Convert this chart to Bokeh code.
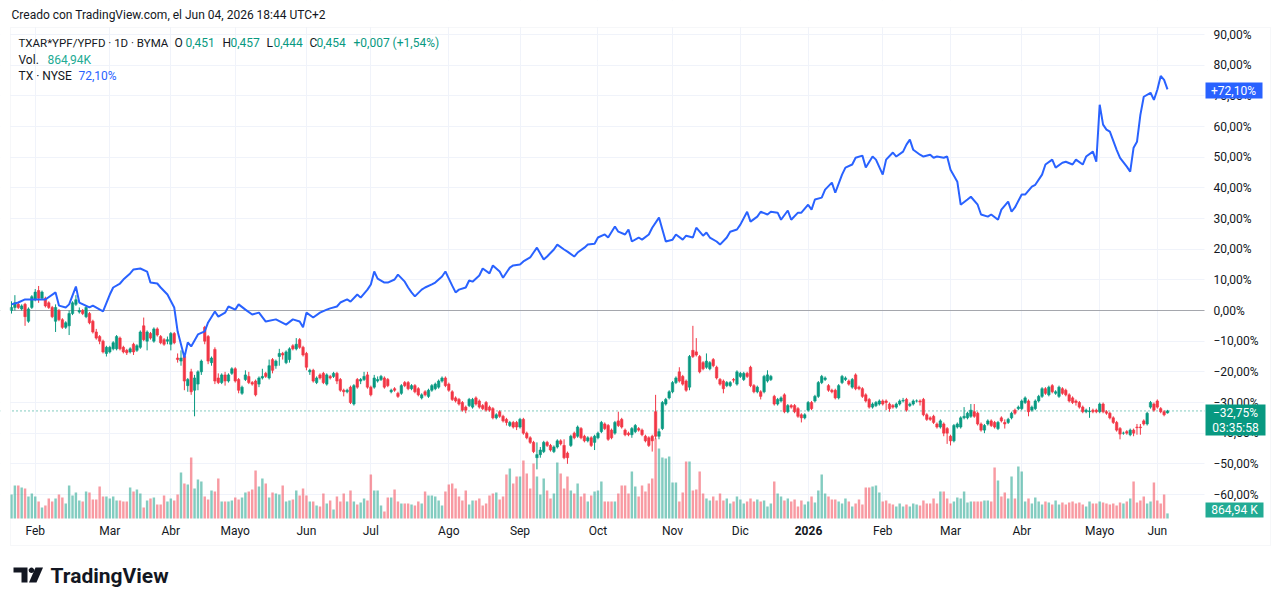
import math
from bokeh.plotting import figure
from bokeh.models import (Range1d, FixedTicker, CustomJSTickFormatter, Label, Span,
                          ColumnDataSource, BoxAnnotation, PolyAnnotation)
from bokeh.embed import file_html
from bokeh.resources import INLINE

# ---------------- data (percent change, TradingView % mode) ----------------
open_pct = [
 0, 1, 2, 0.5, 2, -3.5, 1, 3.5, 6.5, 4,
 4, 2.5, 1, -3.5, 0, -3, -5.5, -5, -1, 2,
 -0.5, 0, -2, -1, -3.5, -7, -8.5, -10, -14, -13.5,
 -12.5, -12.5, -9, -12, -13, -13.5, -11, -13, -12, -5,
 -10, -7.5, -10, -6, -8.5, -9.5, -10, -11, -7.5, -15.5,
 -16.5, -15, -24.5, -20, -26, -24, -20, -5.5, -8.5, -17,
 -12.7, -22, -23.5, -21, -23, -20.5, -19, -22.5,
 -27, -22.5, -21.5, -23.5, -23, -24, -22, -20.5, -22, -16, -18, -15,
 -14, -17, -16, -11.5, -12.5, -9.5, -12, -14, -20, -19.5,
 -23.5, -21, -20.5, -24, -21.5, -21.5, -20.5, -22.5, -26, -26.5,
 -25, -30.5, -22.5, -23, -22.5, -21, -25, -25, -23, -22.5,
 -22, -22.5, -26.5, -25.5, -27, -27, -23.5, -23.5, -25.5, -24.5,
 -25.5, -28.5, -26.5, -28, -26, -25.5, -25, -23, -22, -24,
 -26.5, -28.5, -29, -30, -31.5, -31,
 -31.5, -28.5, -29.5, -31, -30, -31.5, -32, -35, -33, -34.5,
 -35.5, -37.5, -36.5, -36.5, -38, -35.5, -40, -41.5, -43, -48,
 -47, -46, -43, -44, -46, -44.5, -42.5, -44, -46.5, -44,
 -40, -41, -38.5, -41, -42.5, -41.5, -43, -41.5, -39.5, -37,
 -37.5, -39, -40, -36, -35.5, -39, -40, -40.5, -39.5, -38.5,
 -39, -41, -41.5, -41, -33, -41, -38.5, -30.5, -28.5, -26.5,
 -23.5, -20, -21.5, -23, -25, -13, -13.5, -15,
 -17, -18.5, -19, -16, -18.5, -22.5, -23, -24.5, -24.5, -22.5,
 -24, -21.5, -22.5, -20.5, -18.5, -24.5, -26.5, -26.5, -26.5, -23,
 -22.5, -28, -30.5, -29.5, -27.5, -33, -31, -31, -32, -34,
 -35, -32.5, -30, -29.5, -28, -23.5, -22.5, -24.5, -26, -26,
 -28.5, -23.5, -22.5, -23, -25, -21, -25, -25.5, -27.5, -29,
 -31.5, -31, -30.5, -29.5, -29.5, -30.5, -31, -31.5, -30.5, -29.5,
 -29, -31, -30.5, -29.5, -29.5, -29, -34, -35, -34.5, -37,
 -38, -37, -38.5, -41, -42.5, -38, -38, -35, -35, -34.5,
 -33, -33.5, -37, -39, -37, -36, -36.5, -38.5, -35, -36.5,
 -36.5, -35, -32.5, -32, -32, -30, -29.5, -32.5, -32, -29.5,
 -28, -25.5, -27.5, -24.5, -27, -28, -25.5, -26, -27.5, -28.5,
 -29.5, -30, -31.5, -33, -33, -32.5, -32.5, -33, -30.5, -33,
 -33.5, -35, -36.5, -38.5, -40, -39.5, -40.5, -39, -38, -38,
 -36, -37, -31.5, -30.5, -29.5, -32, -33, -33.4]

high_pct = [
 3, 5, 2.5, 2, 2.5, 1, 5, 7, 8, 6.5,
 4.5, 3, 1.5, 2, 0.5, -2.5, -3.5, 0, 3, 5,
 1, 0.5, 1.5, -0.5, -3, -6, -8, -9.5, -11.5, -11.5,
 -10, -8, -8.5, -11.5, -12.5, -12, -10.5, -11, -6.5, -2.3,
 -6.5, -7, -5.5, -5.5, -8, -9, -8.5, -7, -7, -14,
 -13, -14, -22, -19, -21, -19.5, -16, -5, -8, -15,
 -12, -20.5, -20.5, -20, -20.5, -18.5, -18.5, -22,
 -24.5, -19.5, -20, -23, -22.5, -21.5, -19, -20, -16, -15.5, -16, -12.5,
 -13.5, -13, -12, -11, -9, -9, -11.5, -13.5, -19, -19,
 -21.5, -20.5, -20, -20.5, -21, -20, -20, -22, -25.5, -25.5,
 -24.5, -24, -22, -22, -20, -20, -24.5, -21, -21.5, -21,
 -21.5, -22, -25.5, -25, -26.5, -24, -23, -23, -24, -24,
 -25, -27, -26, -25.5, -24, -23.5, -22.5, -21.5, -21.5, -23.5,
 -26, -28, -28.5, -29.5, -31, -28.5,
 -28.5, -28, -29, -30.5, -29.5, -31, -31.5, -33.5, -32.5, -34,
 -35, -36, -36, -36, -35, -35, -39.5, -41, -42.5, -43,
 -44.5, -42.5, -42.5, -43.5, -44, -42, -42, -42, -46, -40.5,
 -39.5, -37.5, -38, -40.5, -41, -41, -40.5, -39.5, -36, -36.5,
 -37, -38.5, -36, -33, -35, -38.5, -39.5, -38, -37, -38,
 -38.5, -40.5, -41, -40.5, -27.5, -38.5, -29.5, -28.5, -26, -23,
 -21.5, -18.5, -21, -22.5, -14.5, -5, -9, -14.5,
 -16.5, -14, -16.5, -15.5, -18, -22, -22.5, -23, -23, -22,
 -19.5, -20, -20, -20, -18, -24, -24.5, -26, -21, -19.5,
 -21, -27.5, -28.5, -28, -27, -30.5, -30.5, -30.5, -31.5, -33.5,
 -33.5, -29.5, -29.5, -27.5, -23, -21, -21.5, -24, -25.5, -25.5,
 -24, -21, -21.5, -22.5, -22, -20.5, -24.5, -25, -27, -28.5,
 -30, -29.5, -29, -29, -29, -30, -30.5, -30, -29, -28.5,
 -28.5, -30, -29, -29, -29, -28.5, -33.5, -34.5, -34, -36.5,
 -35.5, -36.5, -38, -40.5, -37, -36.5, -34.5, -31.5, -33, -30.5,
 -30.5, -33, -36.5, -37, -35.5, -35.5, -36, -36, -34.5, -35.5,
 -35, -33, -32, -31, -29, -28, -29, -31, -29, -27.5,
 -25, -25, -24.5, -24, -26, -24.5, -25, -25.5, -27, -28,
 -29, -29.5, -31, -32, -31.5, -32, -32, -30, -30, -32.5,
 -33, -34.5, -36, -38, -39.5, -39, -38.5, -38.5, -37, -37,
 -35.5, -33, -29.5, -30, -29, -31.5, -32.5, -32.4]

low_pct = [
 -1, 0, 0.5, 0, -5, -4, 0.5, 3, 2.5, 3.5,
 1, 0.5, -2.5, -7, -3.5, -6, -6, -8, -1.5, 1.5,
 -1, -1.5, -2.5, -4.5, -7.5, -9.5, -11, -14, -15, -14,
 -13, -13, -13, -14, -14.5, -14, -14.5, -13.5, -12.5, -10,
 -13, -9.5, -10.5, -8.5, -11, -11.5, -11, -13, -11, -17,
 -18, -26, -26.5, -27.5, -34.5, -26, -21, -11, -17.5, -18,
 -24, -24, -24, -24.5, -23.5, -21, -23.5, -27,
 -27.5, -23, -24, -24.5, -28, -25, -22.5, -22, -22.5, -20.5, -19, -18,
 -16, -17.5, -17, -13, -13, -12.5, -15, -19.5, -21, -23.5,
 -24, -22.5, -24, -24.5, -22.5, -22, -24, -26.5, -28, -27,
 -30.5, -31, -25.5, -24, -23, -25.5, -28, -25.5, -23.5, -23,
 -25.5, -25, -27, -26.5, -28.5, -27.5, -25, -26, -26, -27,
 -28, -29, -28, -28.5, -26.5, -26, -25.5, -23.5, -25, -26.5,
 -29.5, -30, -31, -33, -33.5, -31.5,
 -32, -31, -32, -32.5, -33, -33, -35.5, -35.5, -35, -36.5,
 -37.5, -38, -38.5, -39, -38.5, -40.5, -42, -43.5, -46.5, -51.8,
 -48, -46.5, -44.5, -46, -46.5, -45, -44, -48.5, -50, -44.5,
 -42, -41.5, -42, -43, -43, -44.5, -45.5, -42, -40, -39,
 -42.5, -42, -40.5, -38, -38.5, -41, -41, -41.5, -40, -39.5,
 -41, -43, -44.5, -46, -42, -42, -39, -31, -29, -27,
 -24, -23.5, -24.5, -26.5, -26, -15.5, -15, -20.5,
 -19.5, -19, -19.5, -18.5, -22.5, -24.5, -27, -25, -25, -23.5,
 -24.5, -22, -23, -22, -25, -27, -27, -29, -27, -23.5,
 -23, -31, -31, -30, -33.5, -33.5, -32, -33.5, -35, -36.5,
 -35.5, -33, -32.5, -30, -28.5, -24, -23, -26.5, -27, -29,
 -29, -24, -23, -24.5, -25.5, -26, -26, -28.5, -30, -32,
 -32, -31.5, -31, -31, -32.5, -33, -32, -32, -31, -30,
 -33, -31.5, -31, -30, -31, -34.5, -36, -36, -37, -38.5,
 -38.5, -41, -43.5, -44, -43, -38.5, -38.5, -35.5, -35.5, -35,
 -35, -37.5, -39.5, -40, -37.5, -38, -38.5, -39, -36.5, -38.5,
 -37, -35.5, -34, -32.5, -32.5, -30.5, -34.5, -33, -32.5, -30,
 -28.5, -27.5, -28, -27, -27.5, -28.5, -27.5, -28, -30, -30.5,
 -31, -32, -33.5, -33.5, -35, -33.5, -33.5, -33.5, -33.5, -34,
 -35.5, -37, -39.5, -42, -40.5, -40.5, -41, -41, -40.5, -40.5,
 -37.5, -37.5, -32, -33, -32, -33.5, -34.5, -33.6]

close_pct = [
 1, 2.5, 1, 1.5, -2, 0.5, 4.5, 6, 4, 6,
 1.5, 1, -2, 1, -3, -5.5, -4, -1, 2.5, 3.5,
 0, -1, 1, -4, -7, -9, -10, -13.5, -12, -12,
 -10.5, -8.5, -12.5, -13.5, -13.8, -12.5, -13.5, -11.5, -7, -9.5,
 -7, -9, -6, -8, -10.5, -11, -9.5, -7.5, -10.5, -16,
 -15.5, -23, -22.5, -26.5, -22, -20, -16.5, -10, -16.5, -15.5,
 -23, -23.5, -21, -23, -21, -19, -23, -26,
 -25, -21, -23.5, -24, -27.5, -22, -21.5, -21.5, -18, -19.5, -16.5, -14,
 -14.5, -13.5, -12.5, -12.5, -11, -12, -14.5, -18.5, -19.5, -23,
 -22, -22, -23.5, -21, -22, -20.5, -23, -26, -26.5, -26,
 -30, -24.5, -25, -22.5, -21.5, -25, -27.5, -22, -22.5, -21.5,
 -25, -24.5, -26, -26, -28, -24.5, -24.5, -25.5, -24.5, -26.5,
 -27.5, -27.5, -27.5, -26, -24.5, -24, -23, -22, -24.5, -26,
 -29, -29.5, -30.5, -32.5, -32.5, -29,
 -29, -30.5, -31.5, -32, -32.5, -32.5, -35, -34, -34.5, -36,
 -36.5, -36.5, -38, -38, -35.5, -40, -41.5, -43, -46, -47,
 -45.5, -43, -44, -45.5, -44.5, -42.5, -43.5, -48, -48, -41,
 -41.5, -38, -41.5, -42.5, -41.5, -44, -41, -40, -36.5, -38.5,
 -42, -41.5, -36.5, -37.5, -38, -40.5, -40.5, -38.5, -37.5, -39,
 -40.5, -42.5, -44, -42.5, -41, -39.5, -30, -29, -26.5, -23.5,
 -22, -23, -24, -26, -15, -15, -14.5, -20,
 -19, -16.5, -17, -18, -22, -24, -25.5, -23.5, -23.5, -22.7,
 -20, -20.5, -20.5, -21.5, -24.5, -26.5, -25, -28, -21.5, -21,
 -21.5, -30.5, -29, -28.5, -33, -31, -31.5, -33, -34.5, -35,
 -34, -30, -32, -28, -23.5, -21.5, -22, -26, -26.5, -28.5,
 -24.5, -21.5, -22, -24, -22.5, -25.5, -25.5, -28, -29.5, -31.5,
 -30.5, -30, -29.5, -30.5, -30, -32, -31.5, -30.5, -29.5, -29.3,
 -32.5, -30.5, -29.5, -29.5, -29.8, -34, -35.5, -35.5, -36.5, -38,
 -36, -40, -40, -42.5, -37.5, -37, -35, -34.5, -33.5, -32.5,
 -34.5, -37, -39, -37.5, -36, -37.5, -38, -36.5, -36, -37,
 -35.5, -33.5, -33.5, -31.5, -29.5, -28.5, -33, -31.5, -29.5, -28,
 -25.5, -27, -25, -26.5, -26.5, -25, -27, -27.5, -29.5, -30,
 -30, -31.5, -33, -32.5, -32.8, -33, -33, -30.5, -33, -33.5,
 -35, -36.5, -39, -40.3, -40, -40, -39, -40, -38.2, -38.2,
 -37, -33.5, -30, -32.5, -31.5, -33, -34, -32.75]

volume_k = [
 4080, 5610, 5610, 5270, 5100, 3740, 4250, 3740, 2890, 1870,
 2210, 3400, 2890, 3400, 4080, 3570, 2550, 5610, 3910, 4420,
 3060, 2890, 4590, 4420, 3230, 3230, 5440, 3740, 3740, 3400,
 3740, 3060, 3060, 2890, 2890, 5270, 4590, 4930, 4250, 1870,
 3060, 3400, 3570, 2380, 2380, 3910, 2890, 3400, 3060, 4080,
 7820, 5950, 5780, 10370, 5100, 6630, 6290, 3740, 3230, 4760,
 4590, 6800, 2890, 2890, 2890, 3060, 3570, 3230, 3570, 4420,
 4590, 4930, 8160, 5440, 6800, 5950, 3570, 4420, 4250, 4080,
 5610, 2890, 3060, 3230, 4760, 3910, 5100, 3910, 2890, 2890,
 2210, 2040, 4250, 2550, 3060, 1530, 3740, 2890, 4250, 2890,
 4760, 2890, 2380, 2720, 3400, 3060, 7480, 4760, 4760, 2210,
 1190, 3570, 3570, 4930, 2890, 2550, 2550, 2550, 2380, 2210,
 2890, 2550, 4590, 3910, 3910, 3740, 3060, 2210, 4590, 5780,
 5950, 5100, 3740, 3060, 4760, 2380, 3060, 3060, 3400, 2210,
 2550, 3910, 4250, 4420, 3230, 3740, 7480, 8500, 5950, 7140,
 7140, 9860, 7650, 5100, 9350, 7140, 4080, 6800, 4760, 3400,
 4250, 9520, 7650, 5100, 7140, 4760, 4250, 5950, 3740, 4250,
 2890, 3910, 4590, 4760, 6290, 2890, 2890, 2890, 2890, 4250,
 5610, 5610, 4250, 7990, 5440, 3740, 5610, 4590, 5950, 6800,
 13600, 11900, 10370, 10200, 10540, 6120, 6120, 2890, 4420, 9690,
 9690, 4760, 4930, 7990, 4250, 3400, 3060, 3740, 3060, 4250,
 3060, 3400, 2550, 2890, 3740, 3230, 2550, 2890, 3400, 2890,
 3230, 2890, 3060, 2040, 2550, 6290, 4250, 3740, 3060, 3400,
 2890, 3230, 2040, 3060, 2380, 2890, 3740, 2720, 4760, 7480,
 4250, 3740, 3230, 3230, 2890, 2550, 3400, 2890, 2040, 2550,
 3230, 2380, 5270, 5270, 5440, 5610, 4420, 2890, 3060, 2550,
 2380, 2040, 2550, 2040, 2380, 2040, 2550, 2380, 2210, 3060,
 2550, 2550, 3400, 2550, 4590, 4590, 3400, 2550, 2890, 3570,
 3400, 4590, 2720, 2890, 2890, 2890, 2890, 3060, 3060, 2890,
 8670, 6460, 3740, 4420, 3400, 7140, 3400, 8840, 7990, 2890,
 3400, 2550, 3570, 2890, 2380, 2890, 2720, 2380, 3060, 2380,
 2720, 2380, 2720, 2890, 2550, 2720, 2380, 2040, 2890, 2550,
 2550, 2890, 2720, 2550, 2380, 2550, 2210, 2720, 2550, 2890,
 3400, 6290, 2720, 3060, 3740, 2550, 2890, 6120, 3060, 2550,
 4080, 864.94]

# TX (NYSE) comparison line: bar index of each reading and its % value
tx_bar = [0, 2, 4, 7, 10, 13, 14, 16, 17, 19, 20, 23, 24, 27, 29, 30, 32, 33, 35, 36,
 38, 40, 41, 43, 44, 46, 48, 49, 51, 52, 53, 55, 57, 58, 60, 61, 63, 64, 66, 67,
 69, 71, 73, 75, 78, 81, 83, 85, 86, 87, 89, 91, 93, 94, 96, 97, 99, 100, 102, 103,
 105, 106, 107, 108, 110, 111, 113, 114, 116, 117, 118, 119, 121, 122, 124, 125, 127, 128, 129, 130,
 131, 132, 134, 135, 136, 138, 139, 141, 142, 144, 145, 147, 148, 150, 151, 153, 154, 155, 157, 158,
 160, 161, 163, 164, 166, 167, 169, 170, 172, 173, 175, 176, 178, 179, 181, 182, 183, 185, 186, 188,
 189, 191, 192, 193, 195, 196, 198, 199, 201, 202, 204, 205, 206, 208, 209, 211, 212, 214, 215, 217,
 218, 220, 221, 223, 224, 226, 227, 229, 230, 232, 233, 235, 236, 237, 239, 240, 242, 243, 245, 246,
 248, 249, 251, 252, 254, 255, 257, 258, 260, 261, 263, 264, 265, 266, 268, 269, 271, 272, 273, 275,
 276, 277, 279, 280, 282, 283, 285, 286, 288, 289, 291, 292, 294, 295, 296, 298, 299, 301, 302, 304,
 305, 307, 308, 310, 311, 313, 314, 316, 317, 319, 320, 321, 322, 323, 324, 326, 327, 329, 330, 331,
 332, 333, 334, 336, 337, 338, 339, 340, 341]
tx_pct = [2.0, 2.6, 3.6, 3.6, 3.6, 5.9, 1.6, 1.0, 2.0, 7.8, 2.6, 1.0, 1.6, -0.3, 5.2, 7.5, 8.8, 10.1, 12.1, 13.4,
 13.7, 12.7, 9.1, 8.8, 7.5, 5.2, 1.0, -6.8, -15.3, -10.4, -11.7, -7.8, -6.8, -3.9, -0.3, -2.0, -0.7, 1.3, 0.3, 2.0,
 0.3, -1.3, -0.7, -3.6, -2.9, -4.6, -2.9, -3.6, -5.5, -0.7, -2.3, -0.7, 0.3, 0.7, 1.3, 2.6, 3.6, 2.9, 5.2, 4.2,
 6.8, 8.5, 12.7, 10.4, 9.1, 9.1, 10.1, 11.7, 9.4, 7.5, 5.9, 4.6, 6.8, 7.5, 8.5, 9.1, 11.1, 12.7, 10.4, 8.1,
 5.9, 6.8, 7.5, 9.8, 9.4, 11.4, 13.7, 12.1, 14.7, 12.7, 10.7, 14.0, 14.7, 15.0, 16.0, 17.3, 18.9, 20.5, 16.6, 17.6,
 19.9, 21.5, 19.9, 19.2, 17.6, 18.9, 20.5, 21.5, 21.8, 23.8, 24.8, 23.8, 27.4, 25.7, 24.8, 26.4, 22.5, 23.8, 23.1, 24.8,
 27.0, 30.3, 26.4, 22.5, 23.1, 24.8, 23.1, 24.4, 23.8, 27.0, 24.4, 25.4, 23.8, 22.5, 21.5, 23.8, 25.7, 26.4, 28.0, 32.2,
 29.0, 30.6, 32.2, 31.3, 32.2, 31.9, 29.6, 32.6, 29.6, 31.9, 31.9, 34.5, 32.9, 36.2, 36.8, 39.4, 41.7, 38.4, 44.3, 46.6,
 47.6, 49.8, 50.5, 46.6, 50.2, 49.2, 44.3, 49.2, 51.5, 50.2, 51.8, 54.1, 55.7, 52.4, 50.8, 50.2, 50.8, 49.8, 50.2, 49.8,
 50.2, 45.9, 42.0, 34.5, 36.2, 37.1, 34.5, 31.3, 30.6, 31.3, 29.6, 32.9, 35.5, 32.2, 33.6, 37.8, 37.8, 40.4, 41.0, 44.3,
 47.6, 49.2, 46.6, 48.2, 48.5, 47.6, 49.2, 47.6, 50.2, 51.8, 48.5, 67.1, 60.6, 59.0, 58.3, 52.4, 49.8, 46.9, 45.3, 53.1,
 55.0, 63.8, 69.7, 71.0, 68.7, 72.0, 76.5, 75.2, 72.1]

month_ticks = [7, 29, 47, 66, 87, 106, 129, 150, 173, 195, 215, 235, 257, 277, 298, 321, 338]
month_labels = ["Feb", "Mar", "Abr", "Mayo", "Jun", "Jul", "Ago", "Sep", "Oct", "Nov",
                "Dic", "2026", "Feb", "Mar", "Abr", "Mayo", "Jun"]
pct_ticks = [-60, -50, -40, -30, -20, -10, 0, 10, 20, 30, 40, 50, 60, 70, 80, 90]

# ---------------- styling / layout constants ----------------
UP = "#089981"
DOWN = "#F23645"
BLUE = "#2962FF"
VOLC = "#22AB94"
TXT = "#131722"
FONT = "Roboto"
W, H = 1280, 605
PANE_L, PANE_R, PANE_T, PANE_B = 10, 1204, 27, 518   # chart pane in canvas px
PX_PER_BAR = 3.39
BAR0_X = 11
PX_PER_PCT = 3.0667
Y_90 = 34

n = len(close_pct)
bars = list(range(n))
is_up = [c >= o for o, c in zip(open_pct, close_pct)]
src = ColumnDataSource(dict(
    x=bars,
    h=high_pct, l=low_pct,
    top=[max(o, c) for o, c in zip(open_pct, close_pct)],
    bot=[min(o, c) for o, c in zip(open_pct, close_pct)],
    col=[UP if u else DOWN for u in is_up],
    vol=volume_k,
))

# the plot frame covers the whole canvas; axes draw their labels inward
p = figure(width=W, height=H, output_backend="svg", toolbar_location=None, title=None,
           x_range=Range1d((0 - BAR0_X) / PX_PER_BAR, (W - BAR0_X) / PX_PER_BAR),
           y_range=Range1d(90 + (Y_90 - H) / PX_PER_PCT, 90 + Y_90 / PX_PER_PCT),
           y_axis_location="right",
           min_border_left=0, min_border_right=0, min_border_top=0, min_border_bottom=0)
p.outline_line_color = None
p.background_fill_color = "white"
p.border_fill_color = "white"

# grid
p.xgrid.ticker = FixedTicker(ticks=month_ticks)
p.ygrid.ticker = FixedTicker(ticks=pct_ticks)
p.xgrid.grid_line_color = "#f0f3fa"
p.ygrid.grid_line_color = "#f0f3fa"

# zero line and last-price dotted line (under the masks so they stop at the pane edge)
p.add_layout(Span(location=0, dimension="width", line_color="#a5a7ad", line_width=1, level="underlay"))
p.add_layout(Span(location=close_pct[-1], dimension="width", line_color=UP,
                  line_width=1, line_dash="1 3", level="underlay"))

# white masks outside the chart pane (hide grid beyond it)
for kw in [dict(top=H, bottom=H - PANE_T), dict(top=H - PANE_B, bottom=0),
           dict(right=PANE_L), dict(left=PANE_R)]:
    p.add_layout(BoxAnnotation(fill_color="white", fill_alpha=1, line_color=None, level="underlay",
                               left_units="screen", right_units="screen",
                               top_units="screen", bottom_units="screen", **kw))

# volume (overlay scale, base at pane bottom)
VOL_PER_PX = 170
p.extra_y_ranges = {"vol": Range1d(-(H - PANE_B) * VOL_PER_PX, PANE_B * VOL_PER_PX)}
p.vbar(x="x", top="vol", bottom=0, width=0.72, source=src, y_range_name="vol",
       fill_color="col", line_color=None, fill_alpha=0.5)

# candles
p.segment(x0="x", y0="h", x1="x", y1="l", source=src, line_color="col", line_width=1)
p.vbar(x="x", top="top", bottom="bot", width=0.72, source=src,
       fill_color="col", line_color="col", line_width=0.6)

# comparison line
p.line(tx_bar, tx_pct, line_color=BLUE, line_width=2)

# price axis (right), labels drawn inward to sit right of the pane
ax = p.yaxis[0]
ax.ticker = FixedTicker(ticks=pct_ticks)
ax.formatter = CustomJSTickFormatter(code="""
const s = Math.abs(tick).toFixed(2).replace('.', ',');
return (tick < 0 ? '\u2212' : '') + s + '%';
""")
ax.axis_line_color = None
ax.major_tick_line_color = None
ax.minor_tick_line_color = None
ax.major_tick_out = 0
ax.major_tick_in = 0
ax.minor_tick_out = 0
ax.major_label_text_font = FONT
ax.major_label_text_font_size = "12px"
ax.major_label_text_color = TXT
ax.major_label_standoff = 1213 - W

# time axis (bottom)
bx = p.xaxis[0]
bx.ticker = FixedTicker(ticks=month_ticks)
bx.major_label_overrides = {t: (lab if lab != "2026" else "") for t, lab in zip(month_ticks, month_labels)}
bx.axis_line_color = None
bx.major_tick_line_color = None
bx.minor_tick_line_color = None
bx.major_tick_out = 0
bx.major_tick_in = 0
bx.minor_tick_out = 0
bx.major_label_text_font = FONT
bx.major_label_text_font_size = "12px"
bx.major_label_text_color = TXT
bx.major_label_standoff = 523 - H


def lab(text, X, Y, color=TXT, size="12px", style="normal", align="left"):
    p.add_layout(Label(x=X, y=H - Y, x_units="screen", y_units="screen",
                       text=text, text_color=color, text_font=FONT, text_font_size=size,
                       text_font_style=style, text_align=align, text_baseline="middle"))


def badge(X0, X1, Y0, Y1, color):
    p.add_layout(BoxAnnotation(left=X0, right=X1, top=H - Y0, bottom=H - Y1, fill_color=color,
                               fill_alpha=1, line_color=None,
                               left_units="screen", right_units="screen",
                               top_units="screen", bottom_units="screen"))


def shape(pts, color=TXT):
    p.add_layout(PolyAnnotation(xs=[q[0] for q in pts], ys=[H - q[1] for q in pts],
                                xs_units="screen", ys_units="screen",
                                fill_color=color, fill_alpha=1, line_color=None))


# 2026 label in bold
lab(month_labels[11], 808, 530, style="bold", align="center")

# header
lab("Creado con TradingView.com, el Jun 04, 2026 18:44 UTC+2", 11, 14)

# legend
lab("TXAR*YPF/YPFD \u00b7 1D \u00b7 BYMA", 18, 42, size="11.5px")
for t, X, col in [("O", 174, TXT), ("0,451", 185, UP), ("H", 222, TXT), ("0,457", 230, UP),
                  ("L", 266, TXT), ("0,444", 273, UP), ("C", 309, TXT), ("0,454", 316, UP),
                  ("+0,007 (+1,54%)", 353, UP)]:
    lab(t, X, 42, color=col)
lab("Vol.", 18, 59)
lab("864,94K", 47, 59, color=VOLC)
lab("TX \u00b7 NYSE", 18, 75)
lab("72,10%", 78, 75, color=BLUE)

# price scale badges
badge(1205, 1262, 82, 98, BLUE)
lab("+72,10%", 1233, 90, color="white", align="center")
badge(1205, 1265, 404, 435, UP)
lab("\u221232,75%", 1235, 412, color="white", align="center")
lab("03:35:58", 1235, 427, color="white", align="center")
badge(1205, 1263, 502, 517, VOLC)
lab("864,94 K", 1234, 509.5, color="white", align="center")

# outer container border
p.add_layout(BoxAnnotation(left=10, right=1270, top=H - 27, bottom=H - 545, fill_alpha=0,
                           line_color="#e0e3eb", line_width=1,
                           left_units="screen", right_units="screen",
                           top_units="screen", bottom_units="screen"))

# logo mark
shape([(13, 567), (27, 567), (27, 582), (21, 582), (21, 572), (13, 572)])
shape([(31 + 2.7 * math.cos(k * math.pi / 8), 569.8 + 2.7 * math.sin(k * math.pi / 8)) for k in range(16)])
shape([(35, 567), (42.5, 567), (36, 582), (28.5, 582)])
lab("TradingView", 50, 575, size="21px", style="bold")

open("out.html", "w").write(file_html(p, INLINE))
